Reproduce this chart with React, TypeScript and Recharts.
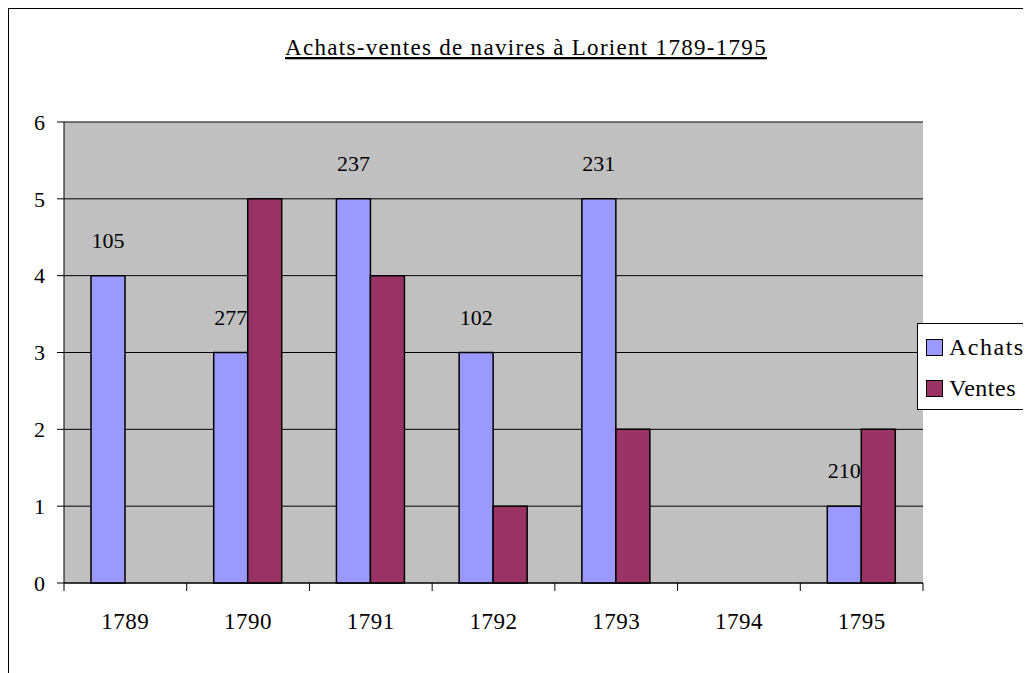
import { BarChart, Bar, XAxis, YAxis, CartesianGrid, Legend, LabelList } from 'recharts';

const years = ['1789', '1790', '1791', '1792', '1793', '1794', '1795'];
const achats = [4, 3, 5, 3, 5, 0, 1];
const ventes = [0, 5, 4, 1, 2, 0, 2];
const tonnage = [105, 277, 237, 102, 231, null, 210];
const yTicks = [0, 1, 2, 3, 4, 5, 6];

const data = years.map((year, i) => ({
  year,
  achats: achats[i],
  ventes: ventes[i],
  tonnage: tonnage[i],
}));

const FONT = 'Liberation Serif, Times New Roman, serif';
const ACHATS = '#9999FF';
const VENTES = '#993366';

const legendItems = [
  { name: 'Achats', color: ACHATS, spacing: 1.5 },
  { name: 'Ventes', color: VENTES, spacing: 0.5 },
];

const YearTick = (props: any) => {
  const { x, y, payload, index } = props;
  const half = payload.offset || 61.4;
  return (
    <g>
      <line x1={x - half} x2={x - half} y1={y} y2={y + 8} stroke="#000" />
      {index === years.length - 1 && (
        <line x1={x + half} x2={x + half} y1={y} y2={y + 8} stroke="#000" />
      )}
      <text
        x={x}
        y={y + 46}
        textAnchor="middle"
        fill="#000"
        style={{ fontFamily: FONT, fontSize: 23, letterSpacing: 0.5 }}
      >
        {payload.value}
      </text>
    </g>
  );
};

const renderLegend = () => (
  <div
    style={{
      border: '1px solid #000',
      background: '#fff',
      width: 140,
      height: 87,
      boxSizing: 'border-box',
      paddingTop: 3,
      paddingLeft: 8,
      fontFamily: FONT,
      fontSize: 24,
      color: '#000',
    }}
  >
    {legendItems.map((item) => (
      <div key={item.name} style={{ display: 'flex', alignItems: 'center', height: 41 }}>
        <span
          style={{
            width: 15,
            height: 15,
            background: item.color,
            border: '1px solid #000',
            marginRight: 6,
            display: 'inline-block',
          }}
        />
        <span style={{ letterSpacing: item.spacing }}>{item.name}</span>
      </div>
    ))}
  </div>
);

export default function App() {
  return (
    <div style={{ position: 'relative', width: 1023, height: 665, overflow: 'hidden', background: '#fff' }}>
      <div
        style={{
          position: 'absolute',
          left: 0,
          top: 0,
          width: 1100,
          height: 720,
          borderLeft: '1px solid #000',
          borderTop: '1px solid #000',
        }}
      />
      <div style={{ position: 'absolute', left: 0, top: 0 }}>
        <BarChart
          width={1023}
          height={665}
          data={data}
          margin={{ top: 114, right: 108, bottom: 50, left: 0 }}
          barGap={0}
          style={{ fontFamily: FONT }}
        >
          <text
            x={518}
            y={47}
            textAnchor="middle"
            fill="#000"
            style={{ fontFamily: FONT, fontSize: 23, letterSpacing: 1.3, textDecoration: 'underline' }}
          >
            Achats-ventes de navires à Lorient 1789-1795
          </text>
          <CartesianGrid fill="#C0C0C0" stroke="#000" vertical={false} fillOpacity={1} />
          <XAxis
            dataKey="year"
            height={40}
            tickLine={false}
            tickSize={0}
            tickMargin={0}
            axisLine={{ stroke: '#000' }}
            tick={<YearTick />}
            interval={0}
          />
          <XAxis
            xAxisId="top"
            dataKey="year"
            orientation="top"
            height={0}
            tick={false}
            tickLine={false}
            axisLine={{ stroke: '#808080' }}
          />
          <YAxis
            width={56}
            domain={[0, 6]}
            ticks={yTicks}
            interval={0}
            tickSize={7}
            tickMargin={12}
            axisLine={{ stroke: '#000' }}
            tickLine={{ stroke: '#000' }}
            tick={{ fill: '#000', fontSize: 22, style: { fontFamily: FONT } }}
          />
          <YAxis
            yAxisId="right"
            orientation="right"
            width={0}
            domain={[0, 6]}
            tick={false}
            tickLine={false}
            axisLine={{ stroke: '#808080' }}
          />
          <Legend
            layout="horizontal"
            verticalAlign="middle"
            align="center"
            content={renderLegend}
            wrapperStyle={{ position: 'absolute', left: 909, top: 315, width: 140 }}
          />
          <Bar dataKey="achats" name="Achats" fill={ACHATS} stroke="#000" strokeWidth={1.5} barSize={34} isAnimationActive={false}>
            <LabelList
              dataKey="tonnage"
              position="top"
              offset={28}
              fill="#000"
              fontSize={22}
              style={{ fontFamily: FONT }}
            />
          </Bar>
          <Bar dataKey="ventes" name="Ventes" fill={VENTES} stroke="#000" strokeWidth={1.5} barSize={34} isAnimationActive={false} />
        </BarChart>
      </div>
    </div>
  );
}
